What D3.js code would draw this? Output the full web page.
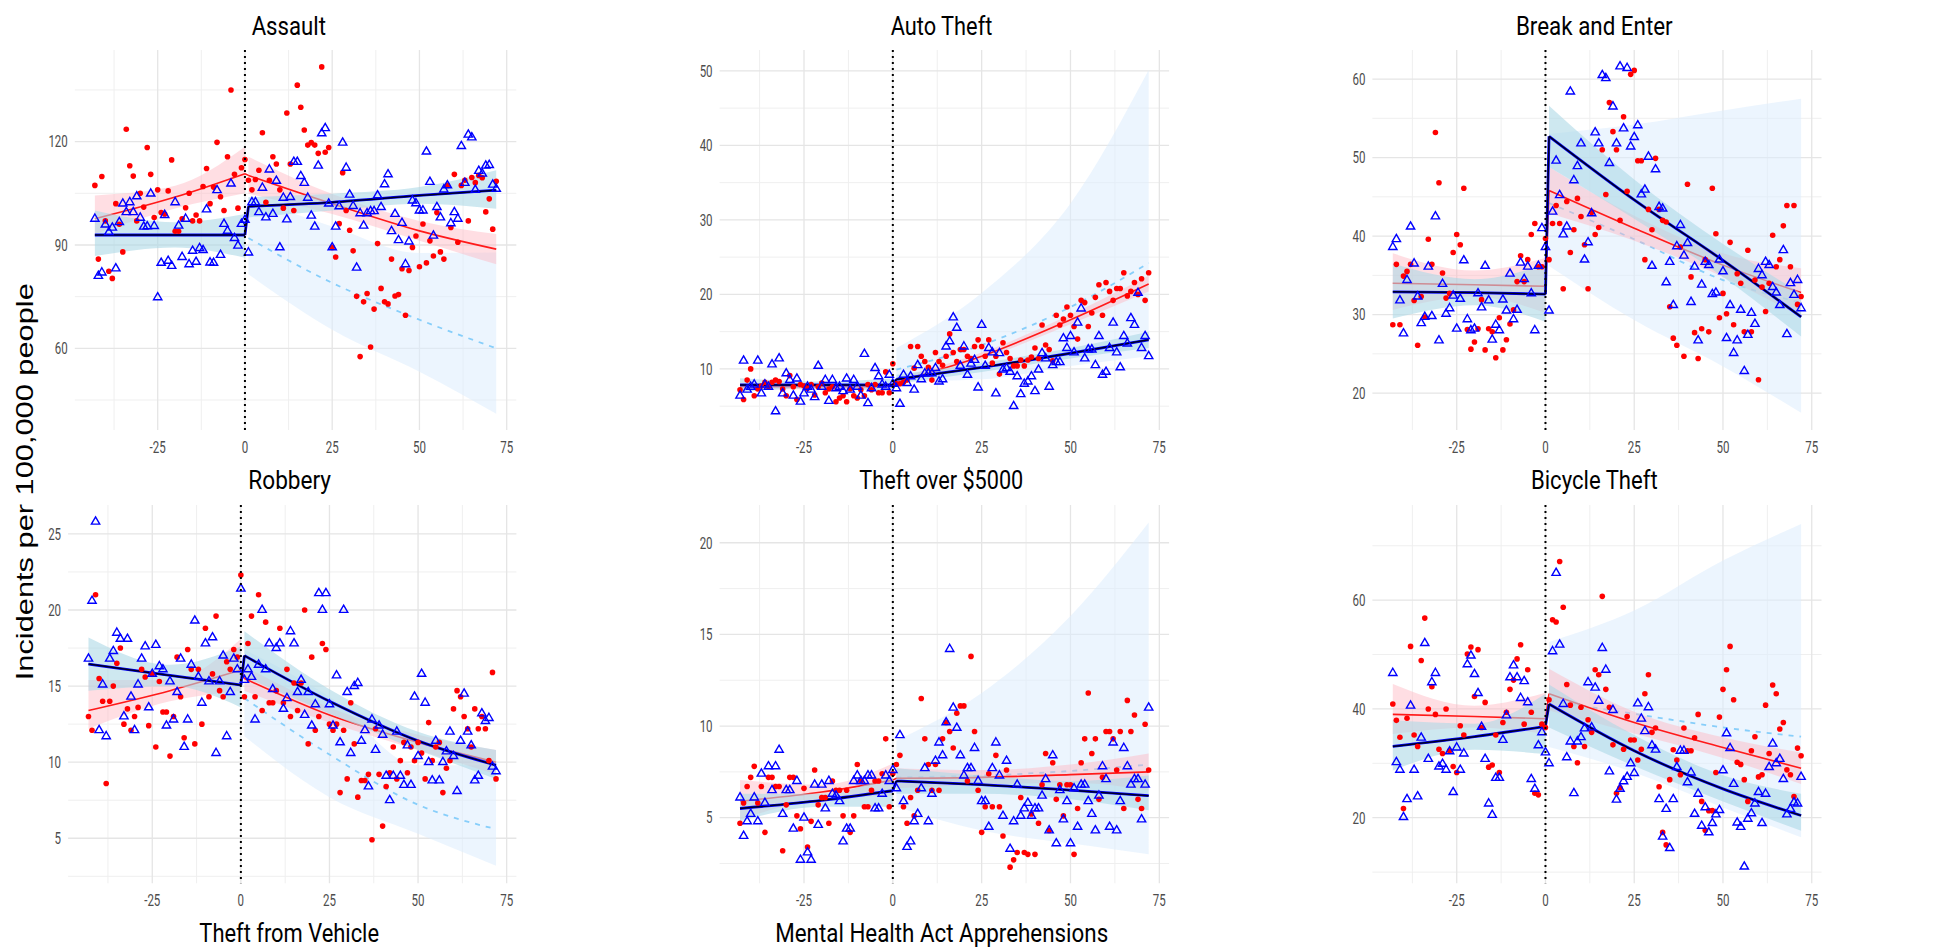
<!DOCTYPE html>
<meta charset="utf-8">
<html>
<head>
<script src="https://d3js.org/d3.v7.min.js"></script>
<style>body{margin:0;background:#fff;}</style>
</head>
<body>
<div id="my_dataviz"></div>
<script>

// months relative to the intervention (x axis), -43 .. 72
var months = d3.range(-43, 73);

// ---------- Assault
var assaultRedPre = [107.3,85.9,109.9,97,82.4,80.3,102,96,88,123.6,113,110,97,105,101,118.3,110.5,98,106,99.4,99,105.7,114.7,94,94,97.6,100.8,105,97,98.7,97,107,112.2,102,106.8,119.8,104,100,115.6,135,110.5,100.7,112.4,114.8];
var assaultRedPost = [108.8,106,109,111.7,122.6,102.4,108.8,115.6,113.5,106,100.7,128.3,113.5,100,136.4,130,123.4,119,119.7,119,116.6,141.7,116.9,118.3,89.3,86.5,96.2,111,100,94.3,88.3,75.1,57.6,73.5,75.9,60.4,71.4,90.4,77.4,73.5,72.9,85.9,75.2,75.6,83.1,69.6,82.6,89.3,92.6,83.7,96.1,84.8,91.2,86.8,99.4,88,85.9,107.3,95.1,110.5,90.8,107.3,108.8,97,109.6,108.1,110.2,109.5,99.6,103.4,94.6,108.5];
var assaultBluePre = [97.6,81,82,95.9,93.7,95,83.2,96.6,102,99.5,102.4,99.5,104.1,97.9,95.3,95.4,104.9,95.5,74.8,84.8,98.7,85.4,83.9,102.4,95.6,86.5,97.6,84.4,88.3,85.1,89.1,88.5,100.3,84.9,84.8,105.9,87.1,96.1,94.1,107.8,92,89.8,96.1,97.3];
var assaultBluePost = [87.8,102.4,102.4,99.5,106.6,98,111.9,99,108.6,89.3,103.7,97.4,103.9,114.1,114.1,110,108,103.7,98.5,95.3,113,122.4,123.9,102,89.3,95.3,101.2,119.7,112.4,104.6,101.3,83.4,99.2,95.6,99.2,99.8,99.8,104.4,101,107.6,110.5,94,99,91.4,96.4,84.4,91,102.9,102.1,100,100,117.1,108.3,92.7,101,98,106.1,107.3,96.3,99.5,97.6,118.7,108,122,121.2,106,111.5,110.7,113,113.2,107.5,106.3];
// fits: [month, fit, lower, upper]
var assaultRedFit = [[-43,97.6,93.2,104.4],[-20,103.9,100.6,107.2],[0,110.7,105,118.5],[1,110.2,104.9,115.6],[25,102,99,104.8],[50,94.1,91.2,97],[72,88.8,84.4,93.2]];
var assaultBlueFit = [[-43,92.9,86.8,100],[-20,92.9,89.3,96.6],[0,92.9,86.3,99],[1,101.2,98,103.9],[25,102.4,100,104.9],[50,104.4,102,106.8],[72,105.9,100.5,111.7]];
var assaultCf = [[1,92,81.5,103.7],[25,79,65.4,95.4],[50,68.3,53.2,87.7],[72,60,41,87.8]];

// ---------- Auto Theft
var autoRedPre = [7.2,5.9,8.5,10,6.4,7.3,7.7,8.2,7.6,8.2,8.5,8.3,7.3,6.4,9.1,7.6,5.9,7.9,7.7,7.4,7.9,6.5,7.6,8.1,6.8,7.3,7.6,5.6,6.1,6.4,5.6,7.3,6.4,6.1,7.2,6.4,7.9,7.2,7.9,6.8,6.8,9.6,6.8,10.7];
var autoRedPost = [8.0,8.0,8.2,8.5,13.0,10.1,13.0,11.7,11.0,10.2,8.5,12.2,11.0,10.5,11.7,14.7,12.2,11.0,12.6,12.6,11.7,11.4,13.0,13.9,13.0,11.7,13.9,10.8,11.7,9.3,13.5,12.2,11.4,10.4,10.4,11.2,10.4,11.2,11.6,12.8,11.4,15.9,13.2,12.6,11.1,17.2,15.9,16.7,18.3,17.2,15.7,14.0,19.2,18.9,15.7,17.5,19.6,21.3,17.2,21.6,20.4,19.2,20.8,20.8,22.9,19.8,20.4,21.6,20.0,22.1,19.2,22.9];
var autoBluePre = [6.4,11.1,7.2,7.6,7.9,11.1,6.7,7.9,7.6,10.6,4.3,11.4,6.7,9.4,8.5,6.4,8.7,5.6,6.7,7.6,7.2,6.2,10.4,7.6,8.5,5.7,8.5,7.4,7.6,7,8.7,7.2,8.5,7.6,6.4,12,5.4,7.4,10.1,9,7.9,7.6,9.2,8.0];
var autoBluePost = [7.4,5.3,9.2,8.1,9.0,7.2,10.5,8.6,9.4,9.4,9.4,10.1,8.3,8.6,13.0,13.7,16.9,15.5,10.4,13.0,9.2,10.7,11.2,7.5,15.9,10.4,12.8,12.2,6.7,12.1,9.9,10.1,9.6,5.0,9.0,6.6,8.0,8.3,9.0,7.0,9.9,12.1,11.4,7.6,10.5,10.9,10.9,14.1,12.8,14.4,12.2,16.2,18.1,11.4,12.6,12.6,10.5,14.4,9.2,9.6,12.8,16.2,12.2,10.2,14.4,13.4,16.8,15.9,20.2,12.8,14.4,11.7];
var autoRedFit = [[-43,7.6,7.1,8.1],[-20,7.6,7.3,7.9],[0,7.6,7.1,8.1],[1,8.3,7.9,8.8],[25,11.7,11.3,12.2],[50,16.6,16.0,17.3],[72,21.4,20.4,22.5]];
var autoBlueFit = [[-43,7.85,6.95,8.75],[-20,7.85,7.4,8.3],[0,7.85,7.0,8.7],[1,8.6,8.0,9.2],[25,10.2,9.6,10.8],[50,12.1,11.4,12.8],[72,13.9,12.8,15.0]];
var autoCf = [[1,9.9,8.3,12.8],[25,13.2,8.6,20.2],[50,18.3,10.4,32.2],[72,24.2,11.7,50.1]];

// ---------- Break and Enter
var breakRedPre = [28.7,36.4,28.7,34.9,35.5,36.4,31.8,26.1,32.3,29.7,39.6,36.4,53.2,46.8,35.3,32.1,32.7,37.9,40.2,38.9,46.1,28.1,25.6,26.5,28.2,31.9,25.5,28.2,27.8,24.5,29.6,25.5,26.8,28.8,30.6,34.2,37.5,34.2,37,40.2,41.6,36.1,36.1,39.7];
var breakRedPost = [37,41.6,43.9,41.6,33.3,44.4,37.9,40.8,44.8,42.5,38.9,33.3,43,40.2,41.1,51,45.3,57,53.3,51,42,55.2,45.7,60.6,61.1,49.6,49.6,37,43.4,40.8,49.9,43.4,42,41.8,31,27,26.1,38.6,24.7,46.6,34.8,27.7,24.4,28.2,37,27.8,46.1,40.3,29.6,32.7,30.1,39.2,28.7,35.2,34,27.8,38.2,27.8,34.4,21.7,33.5,30.4,34,40.1,36.1,37,41.3,43.9,36.1,43.9,31.3,32.3];
var breakBluePre = [38.6,39.6,31.8,27.6,34.4,41.2,36.5,32.3,28.9,29.7,36.1,29.8,42.5,26.7,33.9,30.1,30.8,32.4,28.2,32,36.9,29.4,28,28.2,32.7,30.9,36.2,31.8,26.8,28.7,28,31.9,30.5,35.2,29.4,30.6,36.6,34.5,36.1,32.7,28,36.2,41,38.6];
var breakBluePost = [30.5,43.1,49.6,45.2,40.2,41.2,58.4,47.1,48.9,51.8,37,39.2,42.9,53.2,51.8,60.5,60.1,49.3,56.5,51.8,61.6,53.7,61.4,51.4,52.6,54.1,45.3,45.9,50.1,36.2,48.5,43.7,43.5,34.1,36.7,31.2,38.7,41.4,37.5,39.1,31.6,36.1,26.7,33.8,36.7,36.3,32.6,32.8,37,35.5,27,31.2,25.1,26.7,30.6,22.8,27.4,30.2,28.8,35.8,35,36.7,36.3,33.5,32.8,31.2,38.2,27.5,34,32.5,34.4,30.8];
var breakRedFit = [[-43,34.0,30.6,37.8],[-20,33.8,32.3,35.6],[0,33.6,30.2,37.2],[1,45.8,42.9,48.8],[25,41.0,39.4,42.6],[50,36.3,34.8,37.8],[72,32.8,29.7,35.9]];
var breakBlueFit = [[-43,32.9,29.5,36.5],[-20,32.8,31.2,34.5],[0,32.6,29.1,36.4],[1,52.7,48.8,56.6],[25,44.6,42.2,47.2],[50,36.9,34.8,39.0],[72,29.7,27.2,32.7]];
var breakCf = [[1,44.2,36.2,53],[25,39.6,29.3,54.2],[50,34.4,23.4,56],[72,31.5,17.5,57.5]];

// ---------- Robbery
var robberyRedPre = [13,12.1,21,15.5,14,8.6,14,15,16.5,17.5,12.5,13.5,12.1,13,13.6,16.1,15.6,12.4,15.8,11,15.3,13.3,13.3,10.4,13,16.9,14.3,11.6,17.4,16.1,11.2,16.1,12.5,18.8,14.3,15.8,19.6,14.7,14.3,16.6,16.1,17.4,16.9,22.3];
var robberyRedPost = [14.3,17.8,19.6,14.3,21,13.4,19.2,13.9,13.9,14.7,18.8,13.9,16.1,13,15.2,13.4,15.2,20,11.2,16.9,12.1,13,17.8,17.4,12.5,12.1,12.5,8,12.1,8.9,13.9,11.2,7.7,8.8,8.8,9.2,4.9,12.2,9.2,5.8,8.4,9.3,11,8.9,10.1,11.3,9.3,11,10.1,11.3,10.6,8.9,12.6,10.1,11,11.3,8,9.6,10.1,13.5,14.7,14.3,13,12.2,11,13.5,12.2,13,12.2,10.1,15.9,8.9];
var robberyBluePre = [16.8,20.6,25.8,12.1,15.1,11.7,16.8,17.3,18.5,18.1,13,18.1,14.3,12.1,15.1,16.8,17.6,13.6,15.8,17.7,16.3,16.1,12.4,15.3,12.8,14.6,16.8,11,12.8,16.4,19.3,15.6,13.9,17.8,15.3,18.2,10.6,15.3,17,11.7,14.6,16.8,16.1,21.4];
var robberyBluePost = [15.4,16.1,15.6,12.8,16.4,20,16.1,17.8,14.8,17.5,17.8,13.5,14.2,18.6,17.8,14.6,15.4,13.1,14.6,12.4,13.8,21.1,20,21.1,13.8,12.4,15.7,11.3,20,14.6,10.6,15,15.2,11.4,12.1,8.4,12.8,10.8,12.4,11.8,9.1,7.5,9.1,12,9.1,8.5,11.1,8.5,14.3,10.4,15.8,13.9,10,8.8,11.4,8.8,10,10.7,12,10.4,8.1,11.4,14.5,12,11.1,8.8,9.1,13.2,12.7,12.9,9.7,9.4];
var robberyRedFit = [[-43,13.4,12.2,15.4],[-20,14.7,14.0,15.4],[0,16.05,14.7,18.1],[1,15.5,14.7,16.3],[25,13.1,12.6,13.6],[50,11.3,10.8,11.8],[72,10.0,9.2,10.8]];
var robberyBlueFit = [[-43,16.45,14.7,18.2],[-20,15.7,15.0,16.4],[0,15.07,13.6,17.6],[1,17.0,15.6,18.6],[25,14.0,13.2,14.8],[50,11.4,10.8,12.0],[72,9.8,8.9,10.8]];
var robberyCf = [[1,14.2,11.7,17.4],[25,10.5,7.7,14.3],[50,7.2,5.3,9.8],[72,5.6,3.2,9.8]];

// ---------- Theft over $5000
var theftRedPre = [4.7,5.8,6.7,7.2,7.8,5.8,6.7,4.2,7.2,7.2,6.7,6.7,3.2,5.7,7.2,7.2,5.1,4.4,6.6,3.4,4.8,7.6,5.7,6.1,6.1,4.7,7,6.5,6.5,5.1,6.5,4.2,5.1,7.9,7,5.6,5.6,6.5,7,7,7.4,9.3,5.6,7.4];
var theftRedPost = [7.9,8.4,5.6,4.7,6.1,5.1,6.5,11.5,9.3,7.9,6.5,7.9,6.5,9.3,10.2,9.7,8.8,10.7,11.1,11.1,7,13.8,9.7,6.5,4.2,5.6,7.4,5.6,8.4,5.6,4,7.6,2.3,2.7,3.1,6.1,3.1,3,5.2,3,4.7,6.8,8.5,4.3,8,6,6.8,5.1,6.8,6.8,3,5.5,8,9.3,11.8,8.5,9.3,6,7.2,9.7,9.7,9.3,7.6,9.7,5.5,11.4,9.7,10.6,6,5.5,10.1,7.6];
var theftBluePre = [6.1,4,4.8,5.2,6.1,4.8,7.4,5.8,7.8,6.5,7.8,8.7,5.2,6.5,6.5,4.4,7,2.7,5,3.1,2.7,6.8,4.6,6.8,5.5,7,6.3,6.2,5.9,3.7,4.4,4.4,7,7.3,7,7,7.3,7.3,5.5,5.5,6.3,7.3,7,7.6];
var theftBluePost = [6.6,9.5,5.9,3.4,3.7,4.8,5.2,6.6,7.7,4.8,6.3,8.1,9.1,8.4,10.2,14.2,11,9.9,8.4,7.3,7.7,7.7,8.8,7,5.9,5.9,4.5,7.7,9.1,7.3,5.1,8.1,3.3,4.8,6.8,5.1,5.5,5.8,5.1,5.5,5.5,6.2,7.1,4.3,8.4,3.6,6.5,4.9,5.9,3.6,6.6,4.5,6.8,6.8,5.9,5.2,4.3,6.2,7.8,7.1,4.5,9.1,4.3,5.9,8.8,7.8,6.8,7.1,7.1,4.9,6.8,11];
var theftRedFit = [[-43,5.9,4.9,7.05],[-20,6.4,6.0,6.8],[0,7.05,6.2,7.95],[1,7.15,6.6,7.7],[25,7.2,6.8,7.6],[50,7.35,6.9,7.9],[72,7.5,6.5,8.5]];
var theftBlueFit = [[-43,5.5,4.8,6.3],[-20,5.95,5.6,6.3],[0,6.47,5.6,7.4],[1,7.0,6.3,7.7],[25,6.8,6.3,7.3],[50,6.5,6.0,7.0],[72,6.2,5.4,7.3]];
var theftCf = [[1,7.2,5.6,9.2],[25,7.3,4.3,11.8],[50,7.55,3.6,16],[72,7.9,3.0,21.1]];

// ---------- Bicycle Theft
var bikeRedPre = [40.9,37.9,34.8,21.7,38.3,51.5,35.2,33.1,48.9,56.7,40,44.1,39,32.6,31.8,40,32.3,29.4,28.3,36.9,35.2,50.1,51.4,42.3,50.9,36.6,41.2,29.3,29.7,35.2,28.3,37.5,39.4,43.6,45.3,49.2,51.8,37.2,47.2,39.4,24.5,24.2,37.2,36.6];
var bikeRedPost = [41.7,56.4,56,67.1,58.7,44.5,40.7,33.1,30.1,40.3,33.1,38,35.7,47.2,46.3,60.7,43.6,40.3,33.4,24.5,25.5,32.6,38.6,34.3,34.3,30.6,32.6,42.8,46.3,35.7,36.5,25.7,17.3,15,27,32.5,30.6,27.9,36.5,32.3,32.3,34.7,39,23,17.7,21.3,21.3,28.3,38.5,43.6,47.2,51.5,41.7,30.2,29.8,27,23,32.3,34.9,27.5,27.9,40.7,31.8,44.4,42.8,36.3,37.5,28.8,27.9,23.9,32.8,31.4];
var bikeBluePre = [46.6,30.2,28.8,20.1,23.4,40.6,28.8,23.9,34.7,52.1,30.8,44.9,46.6,29.4,29.9,28.8,32.2,24.7,32.9,28.8,31.8,48.2,49.8,46.4,42.9,36.7,30.8,22.6,20.5,27.3,27.3,34.3,38.8,45.8,48,45.8,42,45.1,41.2,27.1,25.3,33.3,35.7,32];
var bikeBluePost = [30,50.6,65,51.8,40.9,31.1,34,24.5,34,34.8,36.4,44.9,36.6,43.9,41.5,51.2,47.2,28.5,39.8,23.3,25.3,26.7,27.5,30,28.2,41,38.2,35.9,40.3,33.3,32.5,23.4,16.5,21.6,14.4,23.4,29.3,32.3,32.3,26.5,28.3,20.7,24.4,18.5,21.9,17.3,19,20.6,21.4,28.7,35.5,32.8,26.2,19.1,18.3,11,19.8,20.8,22.6,24.7,19,24.4,29.3,33.6,30,30.8,27.1,20.6,21.6,22.8,22.6,27.5];
var bikeRedFit = [[-43,39.0,35.4,44.6],[-20,38.6,36.6,40.6],[0,38.2,35.4,43.0],[1,42.8,39.7,47.4],[25,37.5,35.5,39.5],[50,32.9,31.0,34.8],[72,29.1,26.2,32.0]];
var bikeBlueFit = [[-43,33.1,28.7,37.9],[-20,34.9,32.5,37.3],[0,36.8,31.7,42.8],[1,40.9,36.6,44.5],[25,32.3,29.5,35.2],[50,25.3,23.0,27.8],[72,20.4,17.6,24.4]];
var bikeCf = [[1,41.5,33,52.3],[25,39.1,28.3,58.1],[50,36.6,21.9,67.3],[72,34.9,16.4,74]];

// axis ticks
var xTicks = [-25, 0, 25, 50, 75];
var xMinor = [-37.5, -12.5, 12.5, 37.5, 62.5];
var yTicks = [[60,90,120],[10,20,30,40,50],[20,30,40,50,60],[5,10,15,20,25],[5,10,15,20],[20,40,60]];
var yMinor = [[45,75,105,135],[5,15,25,35,45],[25,35,45,55],[2.5,7.5,12.5,17.5,22.5],[2.5,7.5,12.5,17.5],[10,30,50,70]];
var yDomains = [[36.3,146.6],[1.8,52.8],[15.3,63.7],[2.04,26.9],[1.42,22.06],[7.94,77.5]];
var xDomain = [-48.75, 77.75];

var titles = ["Assault","Auto Theft","Break and Enter","Robbery","Theft over $5000","Bicycle Theft"];
var bottomTitles = ["Theft from Vehicle","Mental Health Act Apprehensions"];

var panels = [
  {red: assaultRedPre.concat(assaultRedPost), blue: assaultBluePre.concat(assaultBluePost), rf: assaultRedFit, bf: assaultBlueFit, cf: assaultCf},
  {red: autoRedPre.concat(autoRedPost), blue: autoBluePre.concat(autoBluePost), rf: autoRedFit, bf: autoBlueFit, cf: autoCf},
  {red: breakRedPre.concat(breakRedPost), blue: breakBluePre.concat(breakBluePost), rf: breakRedFit, bf: breakBlueFit, cf: breakCf},
  {red: robberyRedPre.concat(robberyRedPost), blue: robberyBluePre.concat(robberyBluePost), rf: robberyRedFit, bf: robberyBlueFit, cf: robberyCf},
  {red: theftRedPre.concat(theftRedPost), blue: theftBluePre.concat(theftBluePost), rf: theftRedFit, bf: theftBlueFit, cf: theftCf},
  {red: bikeRedPre.concat(bikeRedPost), blue: bikeBluePre.concat(bikeBluePost), rf: bikeRedFit, bf: bikeBlueFit, cf: bikeCf}
];

// layout (pixels)
var boxes = [
  {l: 74.8, r: 516.3, t: 50, b: 430},
  {l: 719.6, r: 1169.1, t: 50, b: 430},
  {l: 1372.4, r: 1821.5, t: 50, b: 430},
  {l: 68.1, r: 516.4, t: 505, b: 883.3},
  {l: 719.6, r: 1169.1, t: 505, b: 883.3},
  {l: 1372.4, r: 1821.5, t: 505, b: 883.3}
];
var titlePos = [[288.8,35,74.3],[941.5,35,101.7],[1594.3,35,156.7],[289.7,489.3,82.7],[941.3,489.3,164],[1594.3,489.3,126.7]];

var svg = d3.select("#my_dataviz")
  .append("svg")
    .attr("width", 1960)
    .attr("height", 950)
    .style("background", "#fff");

panels.forEach(function(p, i) {
  var bx = boxes[i];
  var x = d3.scaleLinear().domain(xDomain).range([bx.l, bx.r]);
  var y = d3.scaleLinear().domain(yDomains[i]).range([bx.b, bx.t]);
  var g = svg.append("g");

  // grid
  g.selectAll(null).data(xMinor).enter().append("line")
    .attr("x1", d => x(d)).attr("x2", d => x(d)).attr("y1", bx.t).attr("y2", bx.b)
    .attr("stroke", "#efefef").attr("stroke-width", 1);
  g.selectAll(null).data(yMinor[i]).enter().append("line")
    .attr("x1", bx.l).attr("x2", bx.r).attr("y1", d => y(d)).attr("y2", d => y(d))
    .attr("stroke", "#efefef").attr("stroke-width", 1);
  g.selectAll(null).data(xTicks).enter().append("line")
    .attr("x1", d => x(d)).attr("x2", d => x(d)).attr("y1", bx.t).attr("y2", bx.b)
    .attr("stroke", "#e5e5e5").attr("stroke-width", 1.3);
  g.selectAll(null).data(yTicks[i]).enter().append("line")
    .attr("x1", bx.l).attr("x2", bx.r).attr("y1", d => y(d)).attr("y2", d => y(d))
    .attr("stroke", "#e5e5e5").attr("stroke-width", 1.3);

  // tick labels
  g.selectAll(null).data(xTicks).enter().append("text")
    .attr("transform", d => "translate(" + x(d) + "," + (bx.b + 22.5) + ") scale(0.72,1)")
    .attr("text-anchor", "middle")
    .style("font-family", "Roboto, sans-serif").style("font-size", "16px").style("fill", "#4d4d4d")
    .text(d => d);
  g.selectAll(null).data(yTicks[i]).enter().append("text")
    .attr("transform", d => "translate(" + (bx.l - 7) + "," + (y(d) + 5.8) + ") scale(0.72,1)")
    .attr("text-anchor", "end")
    .style("font-family", "Roboto, sans-serif").style("font-size", "16px").style("fill", "#4d4d4d")
    .text(d => d);

  var area = d3.area().curve(d3.curveMonotoneX)
    .x(d => x(d[0])).y0(d => y(d[2])).y1(d => y(d[3]));
  var line = d3.line().curve(d3.curveMonotoneX)
    .x(d => x(d[0])).y(d => y(d[1]));
  var jump = d3.line().x(d => x(d[0])).y(d => y(d[1]));

  var rPre = p.rf.filter(d => d[0] <= 0), rPost = p.rf.filter(d => d[0] > 0);
  var bPre = p.bf.filter(d => d[0] <= 0), bPost = p.bf.filter(d => d[0] > 0);

  // counterfactual ribbon and dashed line
  g.append("path").attr("d", area(p.cf)).attr("fill", "#dcecfd").attr("opacity", 0.55);
  g.append("path").attr("d", line(p.cf)).attr("fill", "none")
    .attr("stroke", "#87cefa").attr("stroke-width", 1.8).attr("stroke-dasharray", "5,6");

  // red fit band and line (pre, jump, post)
  [rPre, rPost].forEach(function(s) {
    g.append("path").attr("d", area(s)).attr("fill", "#ffb6c1").attr("opacity", 0.45);
  });
  var redD = line(rPre) + jump([rPre[rPre.length - 1], rPost[0]]) + line(rPost);
  g.append("path").attr("d", redD).attr("fill", "none")
    .attr("stroke", "#ff1a1a").attr("stroke-width", 1.6);

  // blue fit band and line
  [bPre, bPost].forEach(function(s) {
    g.append("path").attr("d", area(s)).attr("fill", "#add8e6").attr("opacity", 0.6);
  });
  var blueD = line(bPre) + jump([bPre[bPre.length - 1], bPost[0]]) + line(bPost);
  g.append("path").attr("d", blueD).attr("fill", "none")
    .attr("stroke", "#0000ff").attr("stroke-width", 2.8);
  g.append("path").attr("d", blueD).attr("fill", "none")
    .attr("stroke", "#000022").attr("stroke-width", 1.5);

  // points
  g.selectAll(null).data(p.red).enter().append("circle")
    .attr("cx", (d, j) => x(months[j])).attr("cy", d => y(d)).attr("r", 2.8)
    .attr("fill", "#ff0000");
  g.selectAll(null).data(p.blue).enter().append("path")
    .attr("d", d3.symbol().type(d3.symbolTriangle).size(30))
    .attr("transform", (d, j) => "translate(" + x(months[j]) + "," + y(d) + ")")
    .attr("fill", "none").attr("stroke", "#0000ff").attr("stroke-width", 1.4);

  // intervention
  g.append("line").attr("x1", x(0)).attr("x2", x(0)).attr("y1", bx.t).attr("y2", bx.b)
    .attr("stroke", "#000").attr("stroke-width", 2).attr("stroke-dasharray", "2,4");

  // title
  svg.append("text")
    .attr("x", titlePos[i][0]).attr("y", titlePos[i][1])
    .attr("text-anchor", "middle")
    .attr("textLength", titlePos[i][2]).attr("lengthAdjust", "spacingAndGlyphs")
    .style("font-family", "Roboto, sans-serif").style("font-size", "25px").style("fill", "#000")
    .text(titles[i]);
});

// bottom labels
svg.append("text").attr("x", 289.2).attr("y", 941.7).attr("text-anchor", "middle")
  .attr("textLength", 179.7).attr("lengthAdjust", "spacingAndGlyphs")
  .style("font-family", "Roboto, sans-serif").style("font-size", "25px")
  .text(bottomTitles[0]);
svg.append("text").attr("x", 941.7).attr("y", 941.7).attr("text-anchor", "middle")
  .attr("textLength", 333).attr("lengthAdjust", "spacingAndGlyphs")
  .style("font-family", "Roboto, sans-serif").style("font-size", "25px")
  .text(bottomTitles[1]);

// y axis label
svg.append("text")
  .attr("transform", "translate(32.7,481.7) rotate(-90)")
  .attr("text-anchor", "middle")
  .attr("textLength", 397).attr("lengthAdjust", "spacingAndGlyphs")
  .style("font-family", "'Liberation Sans', Arial, sans-serif").style("font-size", "24.5px")
  .text("Incidents per 100,000 people");

</script>
</body>
</html>
